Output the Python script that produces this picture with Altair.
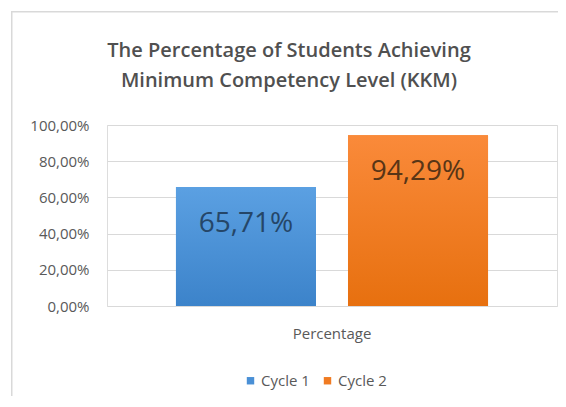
import altair as alt
import pandas as pd

categories = ["Percentage", "Percentage"]
cycles = ["Cycle 1", "Cycle 2"]
values = [65.71, 94.29]
y_ticks = [0, 20, 40, 60, 80, 100]

df = pd.DataFrame({"category": categories, "cycle": cycles, "value": values})

FONT = "Open Sans"
GRAY = "#595959"

xenc = alt.X("category:N",
             scale=alt.Scale(paddingInner=0, paddingOuter=0.221),
             axis=alt.Axis(title=None, ticks=False, domain=False, grid=False, labelAngle=0,
                           labelPadding=20, labelFontSize=15, labelColor=GRAY,
                           labelFont=FONT))
xoff = alt.XOffset("cycle:N", scale=alt.Scale(paddingInner=0.186, paddingOuter=0))
yenc = alt.Y("value:Q",
             scale=alt.Scale(domain=[0, 100]),
             axis=alt.Axis(title=None, values=y_ticks, ticks=False, domain=False,
                           labelPadding=18, labelFontSize=15, labelColor=GRAY,
                           labelFont=FONT, gridColor="#d9d9d9", gridWidth=1,
                           labelExpr="replace(format(datum.value, '.2f'), '.', ',') + '%'"))

base = alt.Chart(df)

bars = base.mark_bar().encode(
    x=xenc, xOffset=xoff, y=yenc,
    color=alt.Color("cycle:N",
                    scale=alt.Scale(domain=cycles, range=["#4a90d6", "#f07b22"]),
                    legend=alt.Legend(title=None, orient="none", legendX=136, legendY=248,
                                      direction="horizontal", symbolType="square",
                                      symbolSize=55, symbolStrokeWidth=0,
                                      labelFontSize=15, labelColor=GRAY, labelFont=FONT,
                                      columnPadding=10, labelOffset=3)),
)

grad_blue = alt.LinearGradient(gradient="linear", x1=0, x2=0, y1=0, y2=1,
                               stops=[alt.GradientStop(color="#5ba0e2", offset=0),
                                      alt.GradientStop(color="#3c83ca", offset=1)])
grad_orange = alt.LinearGradient(gradient="linear", x1=0, x2=0, y1=0, y2=1,
                                 stops=[alt.GradientStop(color="#fa8a3a", offset=0),
                                        alt.GradientStop(color="#e7700f", offset=1)])

bars_grad = base.mark_bar().encode(
    x=xenc, xOffset=xoff, y=yenc,
    color=alt.condition(alt.datum.cycle == "Cycle 1", alt.value(grad_blue), alt.value(grad_orange)),
)

labels = base.transform_calculate(
    label="replace(format(datum.value, '.2f'), '.', ',') + '%'"
).mark_text(baseline="middle", dy=37, fontSize=28, font=FONT).encode(
    x=xenc, xOffset=xoff, y=yenc,
    text="label:N",
    color=alt.condition(alt.datum.cycle == "Cycle 1", alt.value("#254668"), alt.value("#583516")),
)

frame_df = pd.DataFrame({"a": [0]})
frame_v = alt.Chart(frame_df).mark_rect(color="#d9d9d9", strokeWidth=0).encode(
    x=alt.value(-96), x2=alt.value(-94.5), y=alt.value(-114), y2=alt.value(300))
frame_h = alt.Chart(frame_df).mark_rect(color="#d9d9d9", strokeWidth=0).encode(
    x=alt.value(-96), x2=alt.value(451), y=alt.value(-114), y2=alt.value(-112.5))

chart = alt.layer(frame_v, frame_h, bars, bars_grad, labels).properties(
    width=450, height=181,
    autosize=alt.AutoSizeParams(type="none"),
    padding={"left": 99, "top": 117, "right": 1, "bottom": 90},
    title=alt.TitleParams(
        text=["The Percentage of Students Achieving", "Minimum Competency Level (KKM)"],
        anchor="middle", frame="group", dx=-43, offset=0, dy=80, lineHeight=30,
        fontSize=20, font=FONT, fontWeight=600, color="#505050"),
).configure_view(stroke="transparent").configure(background="white")

chart.save("out.html", embed_options={"renderer": "svg", "actions": False})
